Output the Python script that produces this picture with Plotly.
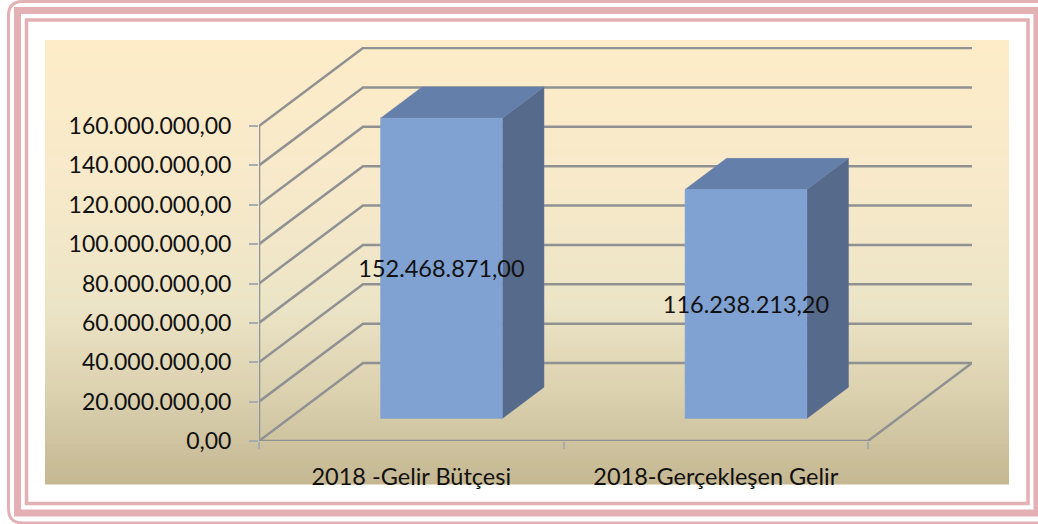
import plotly.graph_objects as go

categories = ["2018 -Gelir Bütçesi", "2018-Gerçekleşen Gelir"]
values = [152468871.00, 116238213.20]
value_labels = ["152.468.871,00", "116.238.213,20"]
tick_values = [0, 20e6, 40e6, 60e6, 80e6, 100e6, 120e6, 140e6, 160e6]
tick_labels = ["0,00", "20.000.000,00", "40.000.000,00", "60.000.000,00", "80.000.000,00",
               "100.000.000,00", "120.000.000,00", "140.000.000,00", "160.000.000,00"]

W, H = 1038, 524
L, R, T, B = 259, 972, 47, 441      # plot area in page pixels
PX_PER_CAT = 304.5
PX_PER_UNIT = 315 / 160e6
DEPTH_X = 104 / PX_PER_CAT          # oblique depth offset, in category units
DEPTH_Y = 78 / PX_PER_UNIT          # oblique depth offset, in value units
N = len(categories)
BAR_W, Z0, Z1 = 0.4, 0.3, 0.7
LABEL_DROP = 4 / PX_PER_UNIT
BAR_DX = -1 / PX_PER_CAT
BAR_DY = -0.8 / PX_PER_UNIT

GRID = "#8f9193"
FRONT, TOP, SIDE = "#80a2d3", "#647fa9", "#566a8c"
PINK = "#e3b0b3"
FONT = "Lato"
TEXT = "#111111"
TICK = "#a6acb0"


def px(x):
    return (x - L) / (R - L)


def py(y):
    return (B - y) / (B - T)


def lerp_stops(t):
    stops = [(0.0, (254, 236, 200)), (0.35, (246, 233, 202)), (0.6, (236, 228, 198)),
             (0.8, (219, 209, 175)), (1.0, (197, 184, 147))]
    for (a, ca), (b, cb) in zip(stops, stops[1:]):
        if t <= b:
            f = (t - a) / (b - a)
            return "rgb(%d,%d,%d)" % tuple(round(p + (q - p) * f) for p, q in zip(ca, cb))
    return "rgb(197,184,147)"


def rect(x0, y0, x1, y1, **kw):
    return dict(type="rect", xref="paper", yref="paper", x0=px(x0), x1=px(x1), y0=py(y0), y1=py(y1),
                layer="below", **kw)


def frame(x0, y0, x1, y1, width):
    return rect(x0, y0, x1, y1, line=dict(color=PINK, width=width), fillcolor="rgba(0,0,0,0)")


shapes = []
# page frame
r = 14
x0o, y0o, x1o, y1o = 8.5, 1.5, 1045, 523
shapes.append(dict(type="path", xref="paper", yref="paper", layer="below",
                   line=dict(color=PINK, width=3),
                   path=f"M {px(x1o)} {py(y0o)} L {px(x0o + r)} {py(y0o)} "
                        f"Q {px(x0o)} {py(y0o)} {px(x0o)} {py(y0o + r)} "
                        f"L {px(x0o)} {py(y1o - r)} Q {px(x0o)} {py(y1o)} {px(x0o + r)} {py(y1o)} "
                        f"L {px(x1o)} {py(y1o)}"))
shapes.append(frame(17.5, 10.5, 1037, 513, 7))
shapes.append(frame(26.5, 20, 1028, 503.5, 3.5))
# panel gradient
STEPS = 111
for i in range(STEPS):
    y0 = 40 + i * 4
    shapes.append(rect(45, y0, 1009, y0 + 4.5, line=dict(width=0), fillcolor=lerp_stops(i / (STEPS - 1))))

fig = go.Figure()


def line(xs, ys, color=GRID, width=2.5):
    fig.add_trace(go.Scatter(x=xs, y=ys, mode="lines", line=dict(color=color, width=width),
                             hoverinfo="skip", showlegend=False, cliponaxis=False))


def poly(xs, ys, color):
    fig.add_trace(go.Scatter(x=xs, y=ys, mode="lines", fill="toself", fillcolor=color,
                             line=dict(color=color, width=0.5), hoverinfo="skip",
                             showlegend=False, cliponaxis=False))


# walls and floor
for v in tick_values:
    line([0, DEPTH_X, N + DEPTH_X], [v, v + DEPTH_Y, v + DEPTH_Y])
line([N + DEPTH_X, N, 0], [DEPTH_Y, 0, 0])
line([0, 0], [0, tick_values[-1]], color="#8d95a0")

# bars
for i, v in enumerate(values):
    xl = i + 0.5 - BAR_W / 2 + BAR_DX
    xr = i + 0.5 + BAR_W / 2 + BAR_DX
    fx0, fx1 = xl + Z0 * DEPTH_X, xr + Z0 * DEPTH_X
    bx0, bx1 = xl + Z1 * DEPTH_X, xr + Z1 * DEPTH_X
    fb, ft = Z0 * DEPTH_Y + BAR_DY, v + Z0 * DEPTH_Y + BAR_DY
    bb, bt = Z1 * DEPTH_Y + BAR_DY, v + Z1 * DEPTH_Y + BAR_DY
    poly([fx1, bx1, bx1, fx1, fx1], [fb, bb, bt, ft, fb], SIDE)
    poly([fx0, bx0, bx1, fx1, fx0], [ft, bt, bt, ft, ft], TOP)
    poly([fx0, fx1, fx1, fx0, fx0], [fb, fb, ft, ft, fb], FRONT)

# value labels
fig.add_trace(go.Scatter(
    x=[i + 0.5 + Z0 * DEPTH_X + BAR_DX for i in range(N)],
    y=[v / 2 + Z0 * DEPTH_Y - LABEL_DROP for v in values],
    mode="text", text=value_labels, textposition="middle center",
    textfont=dict(family=FONT, size=23.5, color=TEXT),
    hoverinfo="skip", showlegend=False, cliponaxis=False))

fig.update_layout(
    width=W, height=H, autosize=False,
    margin=dict(l=L, r=W - R, t=T, b=H - B, pad=0),
    paper_bgcolor="white", plot_bgcolor="rgba(0,0,0,0)",
    shapes=shapes, showlegend=False,
    xaxis=dict(range=[0, (R - L) / PX_PER_CAT], showgrid=False, zeroline=False, showline=False,
               tickmode="array", tickvals=[i + 0.5 for i in range(N)], ticktext=categories,
               ticks="", ticklabelstandoff=19,
               tickfont=dict(family=FONT, size=23.5, color=TEXT),
               minor=dict(tickmode="array", tickvals=list(range(N + 1)), ticks="outside",
                          ticklen=7, tickwidth=2, tickcolor=TICK)),
    yaxis=dict(range=[0, (B - T) / PX_PER_UNIT], showgrid=False, zeroline=False, showline=False,
               tickmode="array", tickvals=tick_values, ticktext=tick_labels,
               ticks="outside", ticklen=9, tickwidth=2, tickcolor=TICK,
               ticklabelstandoff=13,
               tickfont=dict(family=FONT, size=23, color=TEXT)),
)

fig.write_html("out.html", config={"displayModeBar": False},
               post_script="document.body.style.margin='0';document.body.style.overflow='hidden';")
